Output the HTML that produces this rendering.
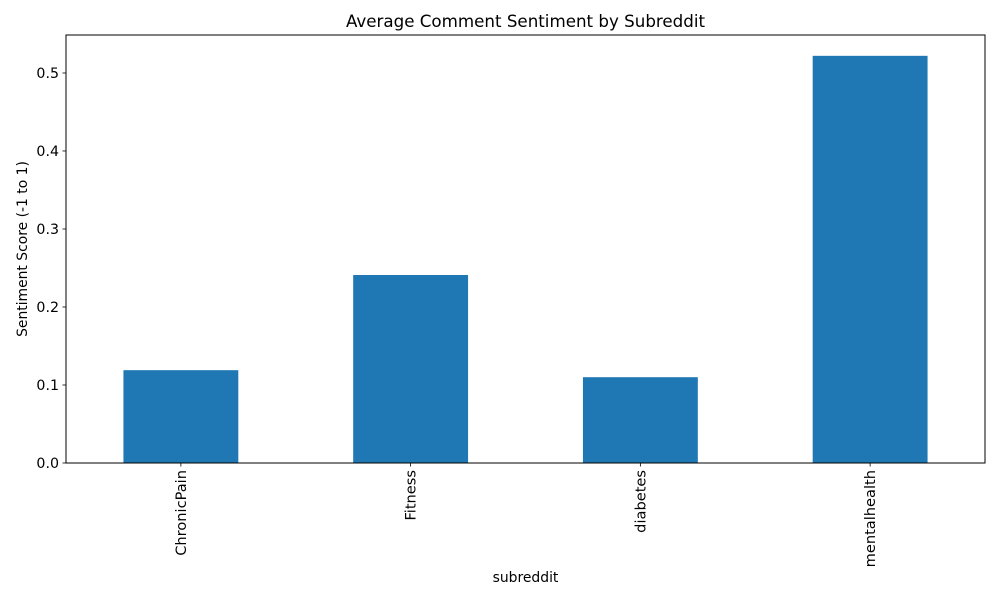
<!DOCTYPE html>
<html><head><meta charset="utf-8"><style>
body{margin:0;background:#fff;font-family:"Liberation Sans","DejaVu Sans",sans-serif}
svg text{font-family:"DejaVu Sans","Liberation Sans",sans-serif;fill:#000}
</style></head><body>
<svg id="chart" width="1000" height="600"></svg>
<script>
const categories = ["ChronicPain","Fitness","diabetes","mentalhealth"];
const sentimentValues = [0.119, 0.241, 0.110, 0.522];
const yTickValues = [0.0, 0.1, 0.2, 0.3, 0.4, 0.5];
const yTickLabels = ["0.0","0.1","0.2","0.3","0.4","0.5"];

const L=66,R=985,T=35,B=463,yMax=0.5487;
const NS="http://www.w3.org/2000/svg";
const svg=document.getElementById('chart');
function y(v){return B-(v/yMax)*(B-T);}
function x(i){return L+(i+0.5)*(R-L)/categories.length;}
function el(tag,attrs,txt){const e=document.createElementNS(NS,tag);for(const k in attrs)e.setAttribute(k,attrs[k]);if(txt!==undefined)e.textContent=txt;svg.appendChild(e);return e;}
const bw=(R-L)/categories.length*0.5;
categories.forEach((c,i)=>{
  const b=el('rect',{x:x(i)-bw/2,y:y(sentimentValues[i]),width:bw,height:B-y(sentimentValues[i]),fill:'#1f77b4'});
  
  
  const tk=el('line',{x1:x(i),x2:x(i),y1:B,y2:B+3.5,stroke:'#000','stroke-width':0.8});
  
  
  const t=el('text',{x:0,y:0,'font-size':14.6,'text-anchor':'end',transform:`translate(${x(i)+5},${B+7}) rotate(-90)`},c);
  
  
});
yTickValues.forEach((v,i)=>{
  const tk=el('line',{x1:L-3.5,x2:L,y1:y(v),y2:y(v),stroke:'#000','stroke-width':0.8});
  
  
  const t=el('text',{x:L-7,y:y(v)+5,'font-size':14.2,'text-anchor':'end'},yTickLabels[i]);
  
  
});
const frame=el('rect',{x:L,y:T,width:R-L,height:B-T,fill:'none',stroke:'#000','stroke-width':1});


const title=el('text',{x:(L+R)/2,y:27,'font-size':16.7,'text-anchor':'middle'},'Average Comment Sentiment by Subreddit');


const xt=el('text',{x:(L+R)/2,y:582,'font-size':13.9,'text-anchor':'middle'},'subreddit');


const yt=el('text',{x:0,y:0,'font-size':13.9,'text-anchor':'middle',transform:`translate(27,${(T+B)/2}) rotate(-90)`},'Sentiment Score (-1 to 1)');


</script>
</body></html>
